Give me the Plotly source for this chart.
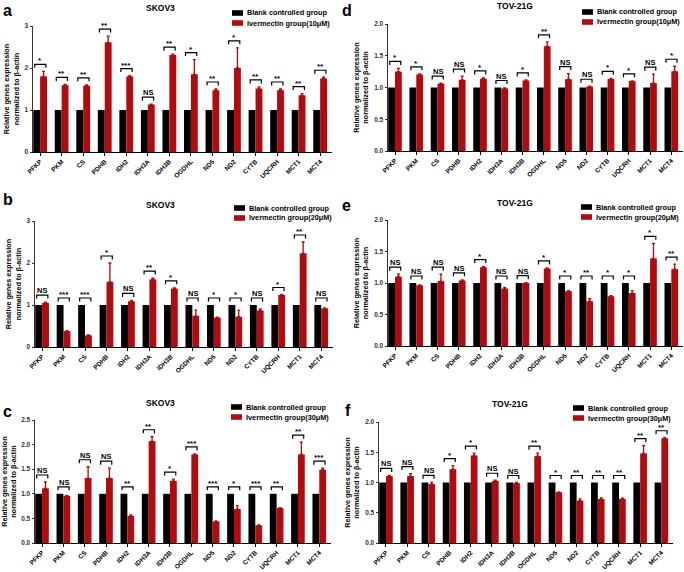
import plotly.graph_objects as go

# ---------------- data ----------------
genes = ["PFKP", "PKM", "CS", "PDHB", "IDH2", "IDH3A", "IDH3B", "OGDHL",
         "ND5", "ND2", "CYTB", "UQCRH", "MCT1", "MCT4"]
blank_ctrl = [1.0, 1.0, 1.0, 1.0, 1.0, 1.0, 1.0, 1.0, 1.0, 1.0, 1.0, 1.0, 1.0, 1.0]
ctrl_label = "Blank controlled group"
panel_letters = ["a", "b", "c", "d", "e", "f"]
cell_lines = ["SKOV3", "SKOV3", "SKOV3", "TOV-21G", "TOV-21G", "TOV-21G"]
treat_labels = ["Ivermectin group(10μM)", "Ivermectin group(20μM)", "Ivermectin group(30μM)",
                "Ivermectin group(10μM)", "Ivermectin group(20μM)", "Ivermectin group(30μM)"]
y_tick_max = [3, 3, 2.5, 2.0, 2.0, 2.0]
y_tick_step = [1, 1, 0.5, 0.5, 0.5, 0.5]
y_title = "Relative genes expression<br>normalized to β-actin"

skov3_10 = [1.80, 1.59, 1.58, 2.61, 1.80, 1.13, 2.31, 1.85, 1.47, 2.00, 1.51, 1.47, 1.35, 1.75]
skov3_10_err = [0.12, 0.02, 0.02, 0.15, 0.02, 0.01, 0.02, 0.35, 0.03, 0.48, 0.04, 0.03, 0.04, 0.03]
skov3_10_sig = ["*", "**", "**", "**", "***", "NS", "**", "*", "**", "*", "**", "**", "**", "**"]

skov3_20 = [1.05, 0.38, 0.28, 1.55, 1.09, 1.61, 1.39, 0.74, 0.70, 0.72, 0.87, 1.24, 2.23, 0.92]
skov3_20_err = [0.02, 0.01, 0.01, 0.45, 0.02, 0.03, 0.02, 0.14, 0.01, 0.16, 0.04, 0.01, 0.27, 0.01]
skov3_20_sig = ["NS", "***", "***", "*", "NS", "**", "*", "NS", "*", "*", "NS", "*", "**", "NS"]

skov3_30 = [1.11, 0.96, 1.32, 1.32, 0.55, 2.07, 1.26, 1.80, 0.44, 0.69, 0.36, 0.71, 1.80, 1.49]
skov3_30_err = [0.13, 0.01, 0.23, 0.20, 0.02, 0.09, 0.04, 0.01, 0.01, 0.07, 0.01, 0.01, 0.25, 0.03]
skov3_30_sig = ["NS", "NS", "NS", "NS", "**", "**", "*", "***", "***", "*", "***", "**", "**", "***"]

tov_10 = [1.25, 1.205, 1.06, 1.12, 1.14, 0.985, 1.11, 1.65, 1.13, 1.015, 1.135, 1.10, 1.07, 1.255]
tov_10_err = [0.05, 0.01, 0.01, 0.06, 0.01, 0.01, 0.01, 0.07, 0.09, 0.005, 0.01, 0.005, 0.14, 0.08]
tov_10_sig = ["*", "*", "NS", "NS", "*", "NS", "*", "**", "NS", "NS", "*", "*", "NS", "*"]

tov_20 = [1.10, 0.963, 1.03, 1.04, 1.25, 0.91, 1.00, 1.23, 0.87, 0.71, 0.79, 0.84, 1.39, 1.22]
tov_20_err = [0.04, 0.005, 0.11, 0.01, 0.01, 0.02, 0.005, 0.01, 0.01, 0.04, 0.01, 0.04, 0.24, 0.08]
tov_20_sig = ["NS", "NS", "NS", "NS", "*", "NS", "NS", "*", "*", "**", "*", "*", "*", "**"]

tov_30 = [1.107, 1.107, 0.973, 1.22, 1.446, 1.027, 0.99, 1.435, 0.84, 0.70, 0.726, 0.73, 1.48, 1.73]
tov_30_err = [0.01, 0.04, 0.03, 0.06, 0.04, 0.01, 0.01, 0.05, 0.005, 0.03, 0.02, 0.01, 0.13, 0.01]
tov_30_sig = ["NS", "NS", "NS", "*", "*", "NS", "NS", "**", "*", "**", "**", "**", "**", "**"]

treat_values = [skov3_10, skov3_20, skov3_30, tov_10, tov_20, tov_30]
treat_errors = [skov3_10_err, skov3_20_err, skov3_30_err, tov_10_err, tov_20_err, tov_30_err]
treat_sigs = [skov3_10_sig, skov3_20_sig, skov3_30_sig, tov_10_sig, tov_20_sig, tov_30_sig]

# ---------------- layout (pixels) ----------------
W, H = 684, 572
BLACK = "#000000"
RED = "#B00C10"
FONT = "Liberation Sans"

# axis boxes: x-left, x-right, y-bottom(value 0), y-top(value max)
boxes = [(33, 332, 152, 26), (35, 333, 347, 221), (35, 331, 543, 420),
         (388, 683, 151, 24), (388, 683, 346, 220), (379, 673, 543, 422)]
title_pos = [(160, 8), (160, 205), (160, 403), (515, 6), (515, 203), (510, 404)]
letter_pos = [(1, 0), (1, 189), (1, 401), (340, 0), (340, 195), (343, 400)]
legend_pos = [(232, 13), (234, 208), (231, 407), (582, 12), (581, 207), (573, 408)]
XR = [-0.33, 13.55]


def px(x):
    return x / W


def py(y):
    return 1 - y / H


fig = go.Figure()
layout = dict(
    width=W, height=H, margin=dict(l=0, r=0, t=0, b=0, autoexpand=False),
    paper_bgcolor="white", plot_bgcolor="white",
    barmode="group", bargap=0.36, bargroupgap=0.0,
    showlegend=False, font=dict(family=FONT, color="black"),
)
annotations = []
shapes = []
idx = list(range(len(genes)))

for k in range(6):
    n = "" if k == 0 else str(k + 1)
    xa, ya = "x" + n, "y" + n
    x0, x1, yb, yt = boxes[k]
    ymax = y_tick_max[k]
    ppu = (yb - yt) / ymax  # pixels per unit
    vals, errs, sigs = treat_values[k], treat_errors[k], treat_sigs[k]

    fig.add_trace(go.Bar(x=idx, y=blank_ctrl, name=ctrl_label, marker=dict(color=BLACK, line=dict(width=0)),
                         xaxis=xa, yaxis=ya, hoverinfo="skip"))
    fig.add_trace(go.Bar(x=idx, y=vals, name=treat_labels[k],
                         marker=dict(color=RED, line=dict(width=0)),
                         error_y=dict(type="data", symmetric=False, array=errs,
                                      arrayminus=[0] * len(errs), color=RED, thickness=1.3, width=1.5),
                         xaxis=xa, yaxis=ya, hoverinfo="skip"))

    # significance brackets
    bx, by = [], []
    for i, (c, v, e, s) in enumerate(zip(blank_ctrl, vals, errs, sigs)):
        top = max(c, v + e) + 7 / ppu
        drop = 3.5 / ppu
        l, r = i - 0.25, i + 0.27
        bx += [l, l, r, r, None]
        by += [top - drop, top, top, top - drop, None]
        annotations.append(dict(x=(l + r) / 2, y=top, xref=xa, yref=ya, text=s, showarrow=False,
                                yanchor="bottom", xanchor="center", yshift=-2 if s == "NS" else -3,
                                font=dict(size=7.5 if s == "NS" else 8, family=FONT, weight="bold")))
    fig.add_trace(go.Scatter(x=bx, y=by, mode="lines", line=dict(color="black", width=1.2),
                             xaxis=xa, yaxis=ya, hoverinfo="skip"))

    layout["xaxis" + n] = dict(
        domain=[px(x0), px(x1)], range=XR, anchor=ya, automargin=False,
        tickvals=idx, ticktext=genes, tickangle=-45,
        tickfont=dict(size=6.4, family=FONT, weight="bold"),
        showline=True, linecolor="black", linewidth=1,
        ticks="outside", ticklen=2.5, tickcolor="black", showgrid=False, zeroline=False,
    )
    layout["yaxis" + n] = dict(
        domain=[py(yb), py(yt)], range=[0, ymax], anchor=xa, automargin=False,
        dtick=y_tick_step[k], tick0=0, tickformat=".0f" if y_tick_step[k] >= 1 else ".1f",
        tickfont=dict(size=6.5, family=FONT, weight="bold", color="#333"),
        showline=True, linecolor="#333", linewidth=1,
        ticks="outside", ticklen=2.5, tickcolor="#333", showgrid=False, zeroline=False,
        title=dict(text=y_title, font=dict(size=7.2, family=FONT, weight="bold"), standoff=4),
    )

    # panel title
    tx, ty = title_pos[k]
    annotations.append(dict(x=px(tx), y=py(ty), xref="paper", yref="paper", text=cell_lines[k],
                            showarrow=False, xanchor="center", yanchor="middle",
                            font=dict(size=8.5, family=FONT, weight="bold")))
    # panel letter
    lx, ly = letter_pos[k]
    annotations.append(dict(x=px(lx), y=py(ly), xref="paper", yref="paper", text=panel_letters[k],
                            showarrow=False, xanchor="left", yanchor="top",
                            font=dict(size=16, family=FONT, weight="bold")))
    # legend
    gx, gy = legend_pos[k]
    for j, (lab, col) in enumerate([(ctrl_label, BLACK), (treat_labels[k], RED)]):
        cy = gy + j * 10
        shapes.append(dict(type="rect", xref="paper", yref="paper",
                           x0=px(gx), x1=px(gx + 11), y0=py(cy + 2.8), y1=py(cy - 2.8),
                           fillcolor=col, line=dict(width=0)))
        annotations.append(dict(x=px(gx + 13), y=py(cy), xref="paper", yref="paper", text=lab,
                                showarrow=False, xanchor="left", yanchor="middle",
                                font=dict(size=7.3, family=FONT, weight="bold")))

layout["annotations"] = annotations
layout["shapes"] = shapes
fig.update_layout(**layout)
fig.write_html("out.html", config={"displayModeBar": False},
               post_script="document.body.style.margin='0px';")
